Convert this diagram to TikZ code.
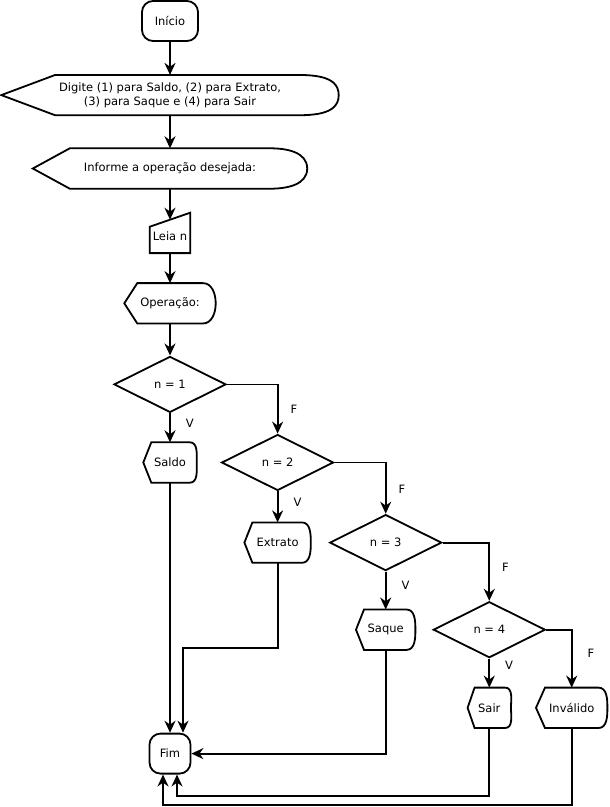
\documentclass[tikz,border=0pt]{standalone}
\usepackage{fontspec}
\setmainfont{DejaVu Sans}
\usetikzlibrary{arrows.meta,positioning,shapes.geometric}

% outline of a display box: node, left slant, right bulge
\newcommand{\dispshape}[3]{%
	\draw[outline] (#1.west) -- ([xshift=#2]#1.north west) -- ([xshift=-#3]#1.north east)
		to[out=0,in=90] (#1.east) to[out=-90,in=0] ([xshift=-#3]#1.south east)
		-- ([xshift=#2]#1.south west) -- cycle;}
% outline of a manual input box
\newcommand{\inputshape}[1]{%
	\draw[outline] (#1.south west) -- ([yshift=-7pt]#1.north west)
		-- ([yshift=7pt]#1.north east) -- (#1.south east) -- cycle;}

\begin{document}
\begin{tikzpicture}[
		font=\fontsize{11.5}{14}\selectfont,
		outline/.style={line width=1.8pt, line join=miter},
		arrow/.style={-{Stealth[length=12pt,width=11pt]}, line width=1.8pt},
		terminal/.style={draw, line width=1.8pt, rounded corners=11pt, minimum width=56pt, minimum height=40pt, inner sep=0pt},
		dispbox/.style={minimum height=40pt, align=center, inner sep=0pt},
		inputbox/.style={minimum width=40pt, minimum height=33pt, inner sep=0pt},
		decision/.style={draw, diamond, line width=1.8pt, minimum width=112pt, minimum height=56pt, inner sep=0pt},
		answer/.style={inner sep=2pt},
	]
		\useasboundingbox (0,0) rectangle (610pt,-807pt);

		\node [terminal] (inicio) at (170pt,-21pt) {Início};
		\node [dispbox, minimum width=337pt, below=33pt of inicio] (msg) {Digite (1) para Saldo, (2) para Extrato,\\(3) para Saque e (4) para Sair};
		\node [dispbox, minimum width=274pt, below=33pt of msg] (info) {Informe a operação desejada:};
		\node [inputbox, below=31pt of info] (leia) {Leia n};
		\node [dispbox, minimum width=91pt, below=30pt of leia] (oper) {Operação:};
		\node [decision, below=32pt of oper] (n1) {n = 1};
		\node [dispbox, minimum width=53pt, below=29pt of n1] (saldo) {Saldo};
		\node [decision, right=24pt of saldo] (n2) {n = 2};
		\node [dispbox, minimum width=66pt, below=31pt of n2] (extrato) {Extrato};
		\node [decision, right=18pt of extrato] (n3) {n = 3};
		\node [dispbox, minimum width=59pt, below=38pt of n3] (saque) {Saque};
		\node [decision, right=17pt of saque] (n4) {n = 4};
		\node [dispbox, minimum width=43pt, below=29pt of n4] (sair) {Sair};
		\node [dispbox, minimum width=71pt, right=25pt of sair] (invalido) {Inválido};
		\node [terminal, minimum width=41pt, below=250pt of saldo] (fim) {Fim};

		\dispshape{msg}{54pt}{50pt}
		\dispshape{info}{37pt}{37pt}
		\inputshape{leia}
		\dispshape{oper}{13pt}{13pt}
		\dispshape{saldo}{8pt}{7pt}
		\dispshape{extrato}{8pt}{9pt}
		\dispshape{saque}{8pt}{9pt}
		\dispshape{sair}{7pt}{6pt}
		\dispshape{invalido}{9pt}{9pt}

		\draw[arrow] (inicio) -- (msg);
		\draw[arrow] (msg) -- (info);
		\draw[arrow] (info) -- (leia);
		\draw[arrow] (leia) -- (oper);
		\draw[arrow] (oper) -- (n1);

		\draw[arrow] (n1) -- (saldo) node[answer, pos=.33, right=13pt] {V};
		\draw[arrow] (n1.east) -| (n2.north) node[answer, pos=.75, right=10pt] {F};
		\draw[arrow] (n2) -- (extrato) node[answer, pos=.35, right=13pt] {V};
		\draw[arrow] (n2.east) -| (n3.north) node[answer, pos=.76, right=10pt] {F};
		\draw[arrow] (n3) -- (saque) node[answer, pos=.37, right=13pt] {V};
		\draw[arrow] (n3.east) -| (n4.north) node[answer, pos=.71, right=10pt] {F};
		\draw[arrow] (n4) -- (sair) node[answer, pos=.22, right=13pt] {V};
		\draw[arrow] (n4.east) -| (invalido.north) node[answer, pos=.70, right=13pt] {F};

		\draw[arrow] (saldo) -- (fim);
		\draw[arrow] (extrato.south) -- ++(0,-85pt) -| ([xshift=13pt]fim.north);
		\draw[arrow] (saque.south) |- (fim.east);
		\draw[arrow] (sair.south) -- ++(0,-68pt) -| ([xshift=7pt]fim.south);
		\draw[arrow] (invalido.south) -- ++(0,-77pt) -| ([xshift=-7pt]fim.south);
	\end{tikzpicture}
\end{document}
